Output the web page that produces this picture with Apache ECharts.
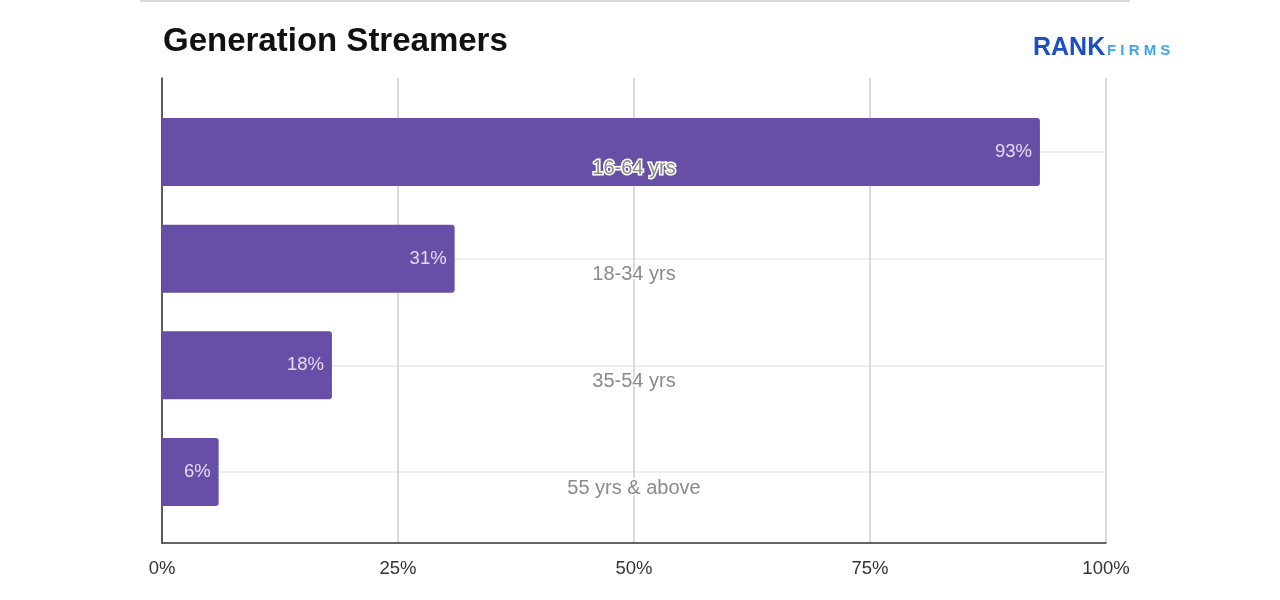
<!DOCTYPE html>
<html>
<head>
<meta charset="utf-8">
<script src="https://cdn.jsdelivr.net/npm/echarts@6/dist/echarts.min.js"></script>
<style>html,body{margin:0;padding:0;background:#fff;}#c{width:1280px;height:600px;}</style>
</head>
<body>
<div id="c"></div>
<script>
var categories = ['16-64 yrs', '18-34 yrs', '35-54 yrs', '55 yrs & above'];
var values = [93, 31, 18, 6];
var xTicks = [0, 25, 50, 75, 100];

var chart = echarts.init(document.getElementById('c'));
var L = 162, R = 1280 - 1106;
var FONT = 'Liberation Sans, Arial';
chart.setOption({
  animation: false,
  backgroundColor: '#fff',
  title: {
    text: 'Generation Streamers', left: 158, top: 20,
    textStyle: { fontFamily: FONT, fontWeight: 'bold', fontSize: 33, color: '#111' }
  },
  graphic: [
    { type: 'rect', shape: { x: 140, y: 0, width: 990, height: 2 }, style: { fill: '#d9d9d9' } },
    { type: 'text', left: 1033, top: 36, style: { text: 'RANK', fill: '#1c4fc0', font: 'bold 25px ' + FONT } },
    { type: 'text', left: 1107, top: 43, style: { text: 'F I R M S', fill: '#3fa4ee', font: 'bold 15px ' + FONT } }
  ],
  grid: [
    { left: L, right: R, top: 78, bottom: 57 },
    { left: L, right: R, top: 152, bottom: 128 }
  ],
  xAxis: [
    {
      gridIndex: 0, type: 'value', min: 0, max: 100, interval: 25,
      axisLine: { show: true, lineStyle: { color: '#333', width: 1.5 } },
      axisTick: { show: false },
      axisLabel: { formatter: function (v) { return xTicks.indexOf(v) >= 0 ? v + '%' : ''; }, color: '#333', fontSize: 18.5, margin: 16, fontFamily: FONT },
      splitLine: { show: true, lineStyle: { color: '#cfcfcf', width: 1.5 } }
    },
    { gridIndex: 1, type: 'value', min: 0, max: 100, show: false }
  ],
  yAxis: [
    {
      gridIndex: 0, type: 'value', min: 0, max: 1,
      axisLine: { show: true, lineStyle: { color: '#333', width: 1.5 } },
      axisTick: { show: false }, axisLabel: { show: false }, splitLine: { show: false }
    },
    {
      gridIndex: 1, type: 'category', data: categories, inverse: true, boundaryGap: false,
      axisLine: { show: false }, axisTick: { show: false }, axisLabel: { show: false },
      splitLine: { show: true, lineStyle: { color: '#e8e8e8', width: 1.5 } }
    },
    {
      gridIndex: 1, type: 'category', data: categories, inverse: true, boundaryGap: false,
      axisLine: { show: false }, axisTick: { show: false }, splitLine: { show: false }, z: 10,
      position: 'left', offset: 0,
      axisLabel: {
        inside: true, margin: 472, align: 'center', verticalAlign: 'top', lineHeight: 32,
        color: '#8a8a8a', fontSize: 20, fontFamily: FONT,
        textBorderColor: '#fff', textBorderWidth: 3
      }
    }
  ],
  series: [{
    type: 'bar', xAxisIndex: 1, yAxisIndex: 1, data: values, barWidth: 68, clip: false,
    itemStyle: { color: '#674ea7', borderRadius: [0, 3, 3, 0] },
    label: {
      show: true, position: 'insideRight', distance: 8, formatter: '{c}%',
      color: '#e4dcf3', fontSize: 18.5, fontFamily: FONT
    }
  }]
});
</script>
</body>
</html>
